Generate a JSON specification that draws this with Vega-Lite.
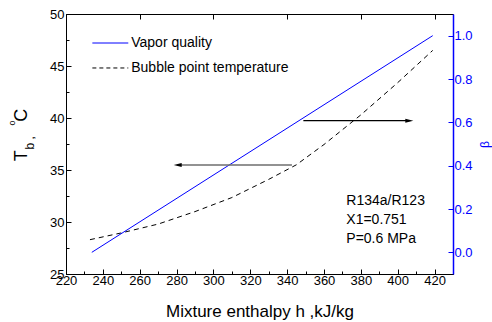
{
  "$schema": "https://vega.github.io/schema/vega-lite/v6.json",
  "autosize": {"type": "none"},
  "width": 387,
  "height": 260,
  "padding": {"left": 66, "top": 14, "right": 39, "bottom": 48},
  "background": "white",
  "config": {
    "view": {"stroke": "black", "strokeWidth": 1},
    "font": "Liberation Sans",
    "axis": {
      "labelFont": "Liberation Sans",
      "titleFont": "Liberation Sans",
      "labelFontSize": 13,
      "labelColor": "black",
      "titleColor": "black",
      "titleFontWeight": "normal",
      "domainColor": "black",
      "tickColor": "black",
      "grid": false,
      "labelFlush": false,
      "labelOverlap": false
    }
  },
  "datasets": {
    "vapor": [
      {"h": 234, "beta": 0.0},
      {"h": 419, "beta": 1.0}
    ],
    "bubble": [
      {"h": 233, "T": 28.3},
      {"h": 250, "T": 28.95},
      {"h": 270, "T": 29.8},
      {"h": 290, "T": 31.0},
      {"h": 310, "T": 32.35},
      {"h": 330, "T": 34.1},
      {"h": 345, "T": 35.5},
      {"h": 360, "T": 37.45},
      {"h": 380, "T": 40.3},
      {"h": 400, "T": 43.4},
      {"h": 419, "T": 46.5}
    ]
  },
  "layer": [
    {
      "data": {"name": "bubble"},
      "mark": {"type": "line", "color": "black", "strokeWidth": 1, "strokeDash": [5, 4]},
      "encoding": {
        "x": {
          "field": "h", "type": "quantitative",
          "scale": {"domain": [220, 430], "nice": false, "zero": false},
          "axis": {
            "orient": "bottom",
            "values": [220,230,240,250,260,270,280,290,300,310,320,330,340,350,360,370,380,390,400,410,420,430],
            "labelExpr": "datum.value % 20 === 0 ? datum.label : ''",
            "labelOverlap": false,
            "tickSize": {"condition": {"test": "datum.value % 20 === 0", "value": -5}, "value": -3},
            "labelPadding": 5,
            "title": "Mixture enthalpy h ,kJ/kg",
            "titleFontSize": 17,
            "titlePadding": 14
          }
        },
        "y": {
          "field": "T", "type": "quantitative",
          "scale": {"domain": [25, 50], "nice": false, "zero": false},
          "axis": {
            "orient": "left",
            "values": [25,27.5,30,32.5,35,37.5,40,42.5,45,47.5,50],
            "labelExpr": "datum.value % 5 === 0 ? datum.label : ''",
            "labelOverlap": false,
            "tickSize": {"condition": {"test": "datum.value % 5 === 0", "value": -5}, "value": -3},
            "labelPadding": 7,
            "title": null
          }
        }
      }
    },
    {
      "layer": [
        {
          "data": {"name": "vapor"},
          "mark": {"type": "line", "color": "#0000ff", "strokeWidth": 1},
          "encoding": {
            "x": {
              "field": "h", "type": "quantitative",
              "scale": {"domain": [220, 430], "nice": false, "zero": false},
              "axis": {
                "orient": "top",
                "values": [220,230,240,250,260,270,280,290,300,310,320,330,340,350,360,370,380,390,400,410,420,430],
                "labels": false,
                "domain": false,
                "tickSize": {"condition": {"test": "datum.value % 20 === 0", "value": -5}, "value": -3},
                "title": null
              }
            },
            "y": {
              "field": "beta", "type": "quantitative",
              "scale": {"domain": [-0.1, 1.1], "nice": false, "zero": false},
              "axis": {
                "orient": "right",
                "values": [0,0.1,0.2,0.3,0.4,0.5,0.6,0.7,0.8,0.9,1.0],
                "format": ".1f",
                "labelExpr": "round(datum.value * 10) % 2 === 0 ? datum.label : ''",
                "labelOverlap": false,
                "tickSize": {"condition": {"test": "round(datum.value * 10) % 2 === 0", "value": -5}, "value": -3},
                "labelPadding": 6,
                "domainColor": "#0000ff",
                "domainWidth": 1.5,
                "tickColor": "#0000ff",
                "labelColor": "#0000ff",
                "title": "β",
                "titleColor": "#0000ff",
                "titleFontSize": 12,
                "titleAngle": 270,
                "titlePadding": 19
              }
            }
          }
        },
        {
          "data": {"values": [{}]},
          "mark": {"type": "rule", "color": "black", "strokeWidth": 1.2},
          "encoding": {"x": {"datum": 348.8}, "x2": {"datum": 406.3}, "y": {"datum": 0.6075}}
        },
        {
          "data": {"values": [{}]},
          "mark": {"type": "point", "shape": "M1,0L-1,-0.5L-1,0.5Z", "filled": true, "color": "black", "size": 64, "opacity": 1},
          "encoding": {"x": {"datum": 406.3}, "y": {"datum": 0.6075}}
        },
        {
          "data": {"values": [{}]},
          "mark": {"type": "rule", "color": "#6e6e6e", "strokeWidth": 1.6},
          "encoding": {"x": {"datum": 342.6}, "x2": {"datum": 280.6}, "y": {"datum": 0.4030}}
        },
        {
          "data": {"values": [{}]},
          "mark": {"type": "point", "shape": "M-1,0L1,-0.5L1,0.5Z", "filled": true, "color": "black", "size": 64, "opacity": 1},
          "encoding": {"x": {"datum": 280.6}, "y": {"datum": 0.4030}}
        },
        {
          "data": {"values": [{}]},
          "mark": {"type": "rule", "color": "#0000ff", "strokeWidth": 1},
          "encoding": {"x": {"datum": 234.3}, "x2": {"datum": 253.8}, "y": {"datum": 0.9661}}
        },
        {
          "data": {"values": [{}]},
          "mark": {"type": "rule", "color": "black", "strokeWidth": 1, "strokeDash": [4, 3]},
          "encoding": {"x": {"datum": 234.3}, "x2": {"datum": 253.8}, "y": {"datum": 0.8509}}
        },
        {
          "data": {"values": [{}]},
          "mark": {"type": "text", "text": "Vapor quality", "fontSize": 14, "align": "left", "baseline": "middle", "color": "black"},
          "encoding": {"x": {"datum": 255.4}, "y": {"datum": 0.9661}}
        },
        {
          "data": {"values": [{}]},
          "mark": {"type": "text", "text": "Bubble point temperature", "fontSize": 14, "align": "left", "baseline": "middle", "color": "black"},
          "encoding": {"x": {"datum": 255.4}, "y": {"datum": 0.8509}}
        },
        {
          "data": {"values": [{}]},
          "mark": {"type": "text", "text": ["R134a/R123", "X1=0.751", "P=0.6 MPa"], "lineHeight": 19.3, "fontSize": 14, "align": "left", "baseline": "middle", "color": "black"},
          "encoding": {"x": {"datum": 372.1}, "y": {"datum": 0.2384}}
        },
        {
          "data": {"values": [{}]},
          "mark": {"type": "text", "text": "T", "fontSize": 18, "angle": 270, "align": "center", "baseline": "alphabetic", "color": "black"},
          "encoding": {"x": {"datum": 198.84}, "y": {"datum": 0.4458}}
        },
        {
          "data": {"values": [{}]},
          "mark": {"type": "text", "text": "b ,", "fontSize": 12, "angle": 270, "align": "left", "baseline": "alphabetic", "color": "black"},
          "encoding": {"x": {"datum": 202.53}, "y": {"datum": 0.4746}}
        },
        {
          "data": {"values": [{}]},
          "mark": {"type": "text", "text": "o", "fontSize": 9, "angle": 270, "align": "center", "baseline": "alphabetic", "color": "black"},
          "encoding": {"x": {"datum": 192.22}, "y": {"datum": 0.5970}}
        },
        {
          "data": {"values": [{}]},
          "mark": {"type": "text", "text": "C", "fontSize": 18, "angle": 270, "align": "center", "baseline": "alphabetic", "color": "black"},
          "encoding": {"x": {"datum": 198.84}, "y": {"datum": 0.6325}}
        }
      ]
    }
  ],
  "resolve": {"scale": {"y": "independent"}, "axis": {"x": "independent", "y": "independent"}}
}
